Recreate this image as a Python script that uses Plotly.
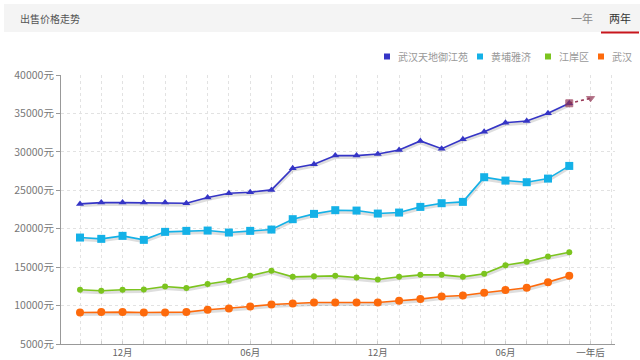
import plotly.graph_objects as go

# ---------------- data ----------------
months = ["10月", "11月", "12月", "01月", "02月", "03月", "04月", "05月", "06月", "07月", "08月", "09月",
          "10月", "11月", "12月", "01月", "02月", "03月", "04月", "05月", "06月", "07月", "08月", "09月"]
tick_labels = ["", "", "12月", "", "", "", "", "", "06月", "", "", "", "", "", "12月", "", "", "", "", "",
               "06月", "", "", "", "一年后", ""]
y_ticks = [5000, 10000, 15000, 20000, 25000, 30000, 35000, 40000]
y_tick_labels = [f"{v}元" for v in y_ticks]

names = ["武汉天地御江苑", "黄埔雅济", "江岸区", "武汉"]

tiandi = [23230, 23400, 23400, 23400, 23400, 23320, 24050, 24620, 24750, 25050, 27870, 28390,
          29510, 29510, 29730, 30250, 31420, 30420, 31640, 32630, 33800, 34020, 35020, 36320]
huangpu = [18850, 18680, 19070, 18550, 19590, 19720, 19760, 19500, 19720, 19890, 21240, 21930,
           22410, 22360, 21970, 22100, 22840, 23320, 23490, 26700, 26260, 26050, 26520, 28170]
jiangan = [12050, 11920, 12050, 12090, 12480, 12270, 12810, 13220, 13870, 14520, 13740, 13830,
           13870, 13650, 13390, 13740, 14000, 14000, 13740, 14130, 15260, 15690, 16380, 16950]
wuhan = [9100, 9150, 9150, 9100, 9100, 9150, 9450, 9620, 9880, 10140, 10270, 10400,
         10400, 10400, 10400, 10620, 10840, 11180, 11310, 11660, 12010, 12310, 13050, 13870]
forecast_tiandi = 36970

colors = ["#3535c6", "#14b1e7", "#7cc41f", "#fd6a0c"]
symbols = ["triangle-up", "square", "circle", "circle"]
msizes = [7, 8, 6, 8]
series = [tiandi, huangpu, jiangan, wuhan]

x_idx = list(range(len(months)))

fig = go.Figure()

# shadows
for vals in series:
    fig.add_trace(go.Scatter(x=x_idx, y=[v - 220 for v in vals], mode="lines",
                             line=dict(color="rgba(0,0,0,0.13)", width=3.5),
                             hoverinfo="skip", showlegend=False))

for name, vals, c, s, ms in zip(names, series, colors, symbols, msizes):
    fig.add_trace(go.Scatter(x=x_idx, y=vals, mode="lines+markers", name=name,
                             line=dict(color=c, width=1.6),
                             marker=dict(symbol=s, size=ms, color=c),
                             showlegend=False))

# forecast segment
fig.add_trace(go.Scatter(x=[x_idx[-1], x_idx[-1] + 1], y=[tiandi[-1], forecast_tiandi],
                         mode="lines+markers", line=dict(color="#9a3c5a", width=1.6, dash="dot"),
                         marker=dict(symbol=["square", "triangle-down"], size=[7, 7], color="#8a3050"),
                         showlegend=False, hoverinfo="skip"))

# ---------------- layout helpers (pixel -> paper) ----------------
L, R, T, B = 61, 615, 75, 344
W, H = R - L, B - T


def px(x):
    return (x - L) / W


def py(y):
    return (B - y) / H


shapes = [
    dict(type="rect", xref="paper", yref="paper", x0=px(4), x1=px(640), y0=py(32), y1=py(4),
         fillcolor="#f4f4f4", line=dict(width=0), layer="below"),
    dict(type="line", xref="paper", yref="paper", x0=px(601), x1=px(639), y0=py(32.5), y1=py(32.5),
         line=dict(color="#c8161d", width=2)),
]
annotations = [
    dict(text="出售价格走势", xref="paper", yref="paper", x=px(18), y=py(18), xanchor="left", yanchor="middle",
         showarrow=False, font=dict(size=10, color="#555555")),
    dict(text="一年", xref="paper", yref="paper", x=px(582), y=py(18), xanchor="center", yanchor="middle",
         showarrow=False, font=dict(size=11, color="#888888")),
    dict(text="两年", xref="paper", yref="paper", x=px(620), y=py(18), xanchor="center", yanchor="middle",
         showarrow=False, font=dict(size=11, color="#333333")),
]

legend_sq = [384, 477, 545, 598]
for name, c, sx in zip(names, colors, legend_sq):
    shapes.append(dict(type="rect", xref="paper", yref="paper", x0=px(sx), x1=px(sx + 6),
                       y0=py(59.5), y1=py(53.5), fillcolor=c, line=dict(width=0)))
    annotations.append(dict(text=name, xref="paper", yref="paper", x=px(sx + 12), y=py(56.5),
                            xanchor="left", yanchor="middle", showarrow=False,
                            font=dict(size=10, color="#999999")))

fig.update_layout(
    width=640, height=360,
    margin=dict(l=L, r=640 - R, t=T, b=360 - B, autoexpand=False),
    paper_bgcolor="white", plot_bgcolor="white",
    font=dict(family="Noto Sans CJK SC, sans-serif", color="#666666"),
    shapes=shapes, annotations=annotations,
    showlegend=False,
    xaxis=dict(range=[-0.893, 25.15], tickmode="array", tickvals=list(range(26)), ticktext=tick_labels,
               showgrid=True, gridcolor="#e2e2e2", griddash="dot", gridwidth=1,
               showline=True, linecolor="#999999", linewidth=1,
               ticks="inside", ticklen=3, tickcolor="#cccccc", automargin=False,
               tickfont=dict(size=9.5, color="#666666"), zeroline=False, fixedrange=True),
    yaxis=dict(range=[5000, 40000], tickmode="array", tickvals=y_ticks, ticktext=y_tick_labels,
               showgrid=True, gridcolor="#e2e2e2", griddash="dot", gridwidth=1,
               showline=True, linecolor="#999999", linewidth=1,
               ticks="outside", ticklen=4, tickcolor="#999999", automargin=False,
               tickfont=dict(size=10.5, color="#777777"), zeroline=False, fixedrange=True),
)

fig.write_html("out.html", config={"displayModeBar": False},
               post_script="document.body.style.margin='0';document.body.style.padding='0';")
